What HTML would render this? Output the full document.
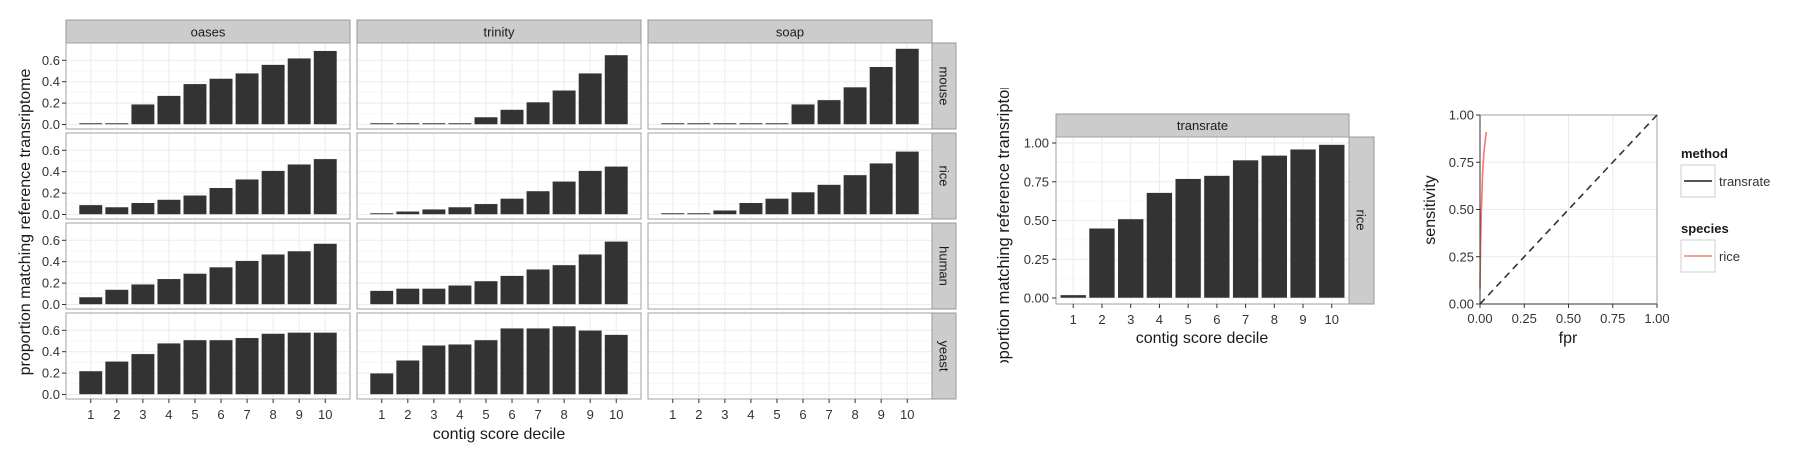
<!DOCTYPE html>
<html><head><meta charset="utf-8"><style>
html,body{margin:0;padding:0;background:#fff;}
svg{display:block;font-family:"Liberation Sans",sans-serif;}
</style></head><body>
<svg id="c" width="1800" height="450" viewBox="0 0 1800 450" xmlns="http://www.w3.org/2000/svg"></svg>
<script>
const methods = ["oases","trinity","soap"];
const species = ["mouse","rice","human","yeast"];
const deciles = ["1","2","3","4","5","6","7","8","9","10"];
const leftYTicks = [0,0.2,0.4,0.6];
const leftYTickLabels = ["0.0","0.2","0.4","0.6"];
const oasesMouse = [0.01,0.01,0.19,0.27,0.38,0.43,0.48,0.56,0.62,0.69];
const oasesRice = [0.09,0.07,0.11,0.14,0.18,0.25,0.33,0.41,0.47,0.52];
const oasesHuman = [0.07,0.14,0.19,0.24,0.29,0.35,0.41,0.47,0.50,0.57];
const oasesYeast = [0.22,0.31,0.38,0.48,0.51,0.51,0.53,0.57,0.58,0.58];
const trinityMouse = [0.01,0.002,0.002,0.002,0.07,0.14,0.21,0.32,0.48,0.65];
const trinityRice = [0.002,0.03,0.05,0.07,0.10,0.15,0.22,0.31,0.41,0.45];
const trinityHuman = [0.13,0.15,0.15,0.18,0.22,0.27,0.33,0.37,0.47,0.59];
const trinityYeast = [0.20,0.32,0.46,0.47,0.51,0.62,0.62,0.64,0.60,0.56];
const soapMouse = [0.002,0.002,0.002,0.002,0.01,0.19,0.23,0.35,0.54,0.71];
const soapRice = [0,0.002,0.04,0.11,0.15,0.21,0.28,0.37,0.48,0.59];
const soapHuman = [];
const soapYeast = [];
const transrateRice = [0.02,0.45,0.51,0.68,0.77,0.79,0.89,0.92,0.96,0.99];
const rightYTicks = [0,0.25,0.5,0.75,1];
const rightYTickLabels = ["0.00","0.25","0.50","0.75","1.00"];
const rocFpr = [0.0,0.003,0.008,0.015,0.022,0.03,0.036];
const rocSens = [0.08,0.3,0.5,0.7,0.8,0.87,0.91];
const grid = {oases:[oasesMouse,oasesRice,oasesHuman,oasesYeast],trinity:[trinityMouse,trinityRice,trinityHuman,trinityYeast],soap:[soapMouse,soapRice,soapHuman,soapYeast]};

const svg=document.getElementById('c');
const NS="http://www.w3.org/2000/svg";
function mk(tag,attrs,parent,txt){const e=document.createElementNS(NS,tag);for(const k in attrs)e.setAttribute(k,attrs[k]);if(txt!==undefined)e.textContent=txt;(parent||svg).appendChild(e);return e;}

function panelGrid(g,x0,w,y0,h,yscale,yticks,nx,xpos){
  for(let i=0;i<yticks.length-1;i++){const v=(yticks[i]+yticks[i+1])/2;mk('line',{x1:x0,x2:x0+w,y1:yscale(v),y2:yscale(v),stroke:'#f7f7f7','stroke-width':1},g);}
  yticks.forEach(v=>{const y=yscale(v);if(y>y0&&y<y0+h)mk('line',{x1:x0,x2:x0+w,y1:y,y2:y,stroke:'#ebebeb','stroke-width':1},g);});
  for(let i=0;i<nx;i++){mk('line',{x1:xpos(i),x2:xpos(i),y1:y0,y2:y0+h,stroke:'#ebebeb','stroke-width':1},g);}
}

// LEFT FACET
const LX=[66,357,648], LW=284, LY=[43,133,223,313], LH=86, stripH=23;
const lExp=0.95;
function lxpos(col,i){const s=LW/(9+2*lExp);return LX[col]+(lExp+i)*s;}
const lBand=LW/(9+2*lExp);
function lyscale(row){return v=>LY[row]+LH-4.5-v*107;}
methods.forEach((m,ci)=>{
  const st=mk('g',{},svg);
  
  
  mk('rect',{x:LX[ci],y:LY[0]-stripH,width:LW,height:stripH,fill:'#cccccc',stroke:'#999','stroke-width':1},st);
  mk('text',{x:LX[ci]+LW/2,y:LY[0]-stripH/2+5,'text-anchor':'middle','font-size':13,fill:'#1a1a1a'},st,m);
  species.forEach((sp,ri)=>{
    const g=mk('g',{},svg);
    
    
    const ys=lyscale(ri);
    mk('rect',{x:LX[ci],y:LY[ri],width:LW,height:LH,fill:'#fff'},g);
    panelGrid(g,LX[ci],LW,LY[ri],LH,ys,leftYTicks,10,i=>lxpos(ci,i));
    grid[m][ri].forEach((v,i)=>{
      const b=mk('rect',{x:lxpos(ci,i)-lBand*0.45,y:Math.min(ys(v),ys(0)-1.5),width:lBand*0.9,height:Math.max(ys(0)-ys(v),1.5),fill:'#333333',stroke:'#fff','stroke-width':0.5},g);
      
      
    });
    mk('rect',{x:LX[ci],y:LY[ri],width:LW,height:LH,fill:'none',stroke:'#a0a0a0','stroke-width':1},g);
    if(ci===0){
      leftYTicks.forEach((v,k)=>{const y=ys(v);mk('line',{x1:62,x2:66,y1:y,y2:y,stroke:'#333'},g);
        mk('text',{x:60,y:y+4.5,'text-anchor':'end','font-size':13,fill:'#333'},g,leftYTickLabels[k]);});
    }
  });
});
species.forEach((sp,ri)=>{
  const g=mk('g',{},svg);
  
  
  mk('rect',{x:932,y:LY[ri],width:24,height:LH,fill:'#cccccc',stroke:'#999','stroke-width':1},g);
  mk('text',{x:944,y:LY[ri]+LH/2,'text-anchor':'middle','font-size':13,fill:'#1a1a1a',transform:`rotate(90 944 ${LY[ri]+LH/2}) translate(0 4.5)`},g,sp);
});
methods.forEach((m,ci)=>{
  deciles.forEach((d,i)=>{const x=lxpos(ci,i);mk('line',{x1:x,x2:x,y1:399,y2:403,stroke:'#333'});
    const t=mk('text',{x:x,y:419,'text-anchor':'middle','font-size':13,fill:'#333'},svg,d);
    
    });
});
let t=mk('text',{x:499,y:439,'text-anchor':'middle','font-size':16,fill:'#1a1a1a'},svg,'contig score decile');


t=mk('text',{x:30,y:222,'text-anchor':'middle','font-size':16,fill:'#1a1a1a',transform:'rotate(-90 30 222)'},svg,'proportion matching reference transriptome');



// RIGHT BAR CHART
const RX=1056,RW=293,RY=137,RH=167;
const rExp=0.6, rBand=RW/(9+2*rExp);
const rx=i=>RX+(rExp+i)*rBand;
const ry=v=>298-v*155;
const rg=mk('g',{},svg);


mk('rect',{x:RX,y:114,width:RW,height:23,fill:'#cccccc',stroke:'#999'},rg);
mk('text',{x:RX+RW/2,y:130,'text-anchor':'middle','font-size':13,fill:'#1a1a1a'},rg,'transrate');
mk('rect',{x:1349,y:RY,width:25,height:RH,fill:'#cccccc',stroke:'#999'},rg);
mk('text',{x:1361,y:220,'text-anchor':'middle','font-size':13,fill:'#1a1a1a',transform:'rotate(90 1361 220) translate(0 4.5)'},rg,'rice');
panelGrid(rg,RX,RW,RY,RH,ry,rightYTicks,10,rx);
transrateRice.forEach((v,i)=>{const b=mk('rect',{x:rx(i)-rBand*0.45,y:Math.min(ry(v),ry(0)-1.5),width:rBand*0.9,height:Math.max(ry(0)-ry(v),1.5),fill:'#333',stroke:'#fff','stroke-width':0.5},rg);
  
  });
mk('rect',{x:RX,y:RY,width:RW,height:RH,fill:'none',stroke:'#a0a0a0'},rg);
rightYTicks.forEach((v,k)=>{const y=ry(v);mk('line',{x1:1052,x2:1056,y1:y,y2:y,stroke:'#333'},rg);
  mk('text',{x:1049,y:y+4.5,'text-anchor':'end','font-size':13,fill:'#333'},rg,rightYTickLabels[k]);});
deciles.forEach((d,i)=>{const x=rx(i);mk('line',{x1:x,x2:x,y1:304,y2:308,stroke:'#333'},rg);mk('text',{x:x,y:324,'text-anchor':'middle','font-size':13,fill:'#333'},rg,d);});
t=mk('text',{x:1202,y:343,'text-anchor':'middle','font-size':16,fill:'#1a1a1a'},svg,'contig score decile');


mk('clipPath',{id:'yc'},svg);
mk('rect',{x:980,y:88,width:40,height:275},document.getElementById('yc'));
const cg=mk('g',{'clip-path':'url(#yc)'},svg);
t=mk('text',{x:1009,y:225,'text-anchor':'middle','font-size':16.5,fill:'#1a1a1a',transform:'rotate(-90 1009 225)'},cg,'proportion matching reference transriptome');



// ROC
const PX0=1480,PX1=1657,PY0=304,PY1=115;
const px=v=>PX0+v*(PX1-PX0), py=v=>PY0-v*(PY0-PY1);
const pg=mk('g',{},svg);


mk('rect',{x:PX0,y:PY1,width:PX1-PX0,height:PY0-PY1,fill:'#fff'},pg);
rightYTicks.forEach(v=>{mk('line',{x1:PX0,x2:PX1,y1:py(v),y2:py(v),stroke:'#ebebeb'},pg);mk('line',{x1:px(v),x2:px(v),y1:PY1,y2:PY0,stroke:'#ebebeb'},pg);});
mk('rect',{x:PX0,y:PY1,width:PX1-PX0,height:PY0-PY1,fill:'none',stroke:'#a0a0a0'},pg);
const dl=mk('line',{x1:px(0),y1:py(0),x2:px(1),y2:py(1),stroke:'#333','stroke-width':1.6,'stroke-dasharray':'7,5'},pg);


const rl=mk('polyline',{points:rocFpr.map((f,i)=>px(f)+','+py(rocSens[i])).join(' '),fill:'none',stroke:'#f8766d','stroke-width':1.6},pg);


mk('line',{x1:PX0,x2:PX0,y1:PY1,y2:PY0,stroke:'#333'},pg);
mk('line',{x1:PX0,x2:PX1,y1:PY0,y2:PY0,stroke:'#333'},pg);
rightYTicks.forEach((v,k)=>{mk('line',{x1:PX0-4,x2:PX0,y1:py(v),y2:py(v),stroke:'#333'},pg);
  mk('text',{x:PX0-6,y:py(v)+4.5,'text-anchor':'end','font-size':13,fill:'#333'},pg,rightYTickLabels[k]);
  mk('line',{x1:px(v),x2:px(v),y1:PY0,y2:PY0+4,stroke:'#333'},pg);
  mk('text',{x:px(v),y:PY0+19,'text-anchor':'middle','font-size':13,fill:'#333'},pg,rightYTickLabels[k]);});
t=mk('text',{x:1568,y:343,'text-anchor':'middle','font-size':16,fill:'#1a1a1a'},svg,'fpr');


t=mk('text',{x:1435,y:210,'text-anchor':'middle','font-size':16,fill:'#1a1a1a',transform:'rotate(-90 1435 210)'},svg,'sensitivity');


const lg=mk('g',{},svg);


mk('text',{x:1681,y:158,'font-size':13,'font-weight':'bold',fill:'#1a1a1a'},lg,'method');
mk('rect',{x:1681,y:165,width:34,height:32,fill:'#fff',stroke:'#ccc'},lg);
mk('line',{x1:1684,x2:1712,y1:181,y2:181,stroke:'#555','stroke-width':2},lg);
mk('text',{x:1719,y:186,'font-size':13,fill:'#333'},lg,'transrate');
mk('text',{x:1681,y:233,'font-size':13,'font-weight':'bold',fill:'#1a1a1a'},lg,'species');
mk('rect',{x:1681,y:240,width:34,height:32,fill:'#fff',stroke:'#ccc'},lg);
mk('line',{x1:1684,x2:1712,y1:256,y2:256,stroke:'#f8a09a','stroke-width':2},lg);
mk('text',{x:1719,y:261,'font-size':13,fill:'#333'},lg,'rice');
</script>
</body></html>
